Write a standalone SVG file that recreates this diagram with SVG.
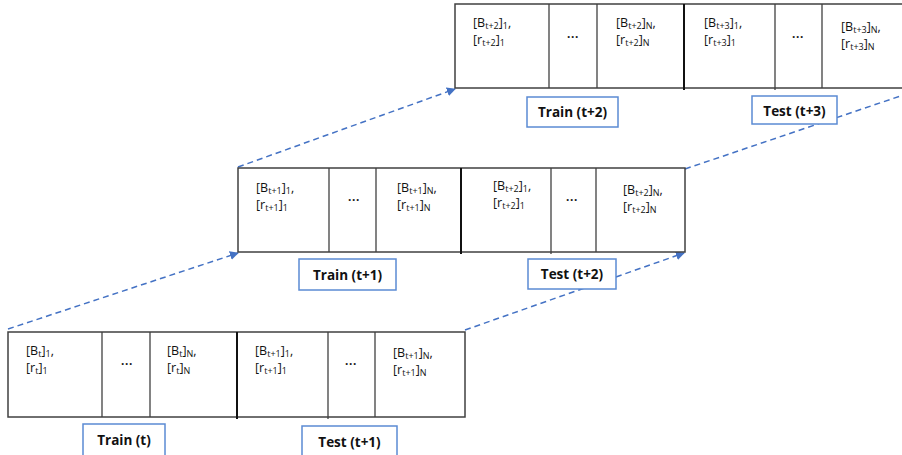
<svg xmlns="http://www.w3.org/2000/svg" width="902" height="455" viewBox="0 0 902 455">
<defs>
<marker id="ah" viewBox="0 0 10 10" refX="9" refY="5" markerWidth="9" markerHeight="9" markerUnits="userSpaceOnUse" orient="auto">
<path d="M0,0 L10,5 L0,10 Z" fill="#4472C4"/>
</marker>
</defs>
<style>
.row{fill:#fff;stroke:#404040;stroke-width:1.5}
.div{stroke:#404040;stroke-width:1.3}
.thick{stroke:#111;stroke-width:2}
.cell{font-family:"Open Sans","Liberation Sans",sans-serif;font-size:12.5px;fill:#111}
.s{font-size:9px}
.dots{font-family:"Liberation Sans",sans-serif;font-size:12px;font-weight:bold;fill:#222;text-anchor:middle}
.lbox{fill:#fff;stroke:#5B8BD3;stroke-width:1.5}
.ltxt{font-family:"Open Sans","Liberation Sans",sans-serif;font-size:13.5px;font-weight:bold;fill:#111;text-anchor:middle}
.con{fill:none;stroke:#4472C4;stroke-width:1.5;stroke-dasharray:6 4}
</style>
<rect width="902" height="455" fill="#fff"/>

<g id="connectors">
<line class="con" x1="8" y1="329" x2="238" y2="253" marker-end="url(#ah)"/>
<line class="con" x1="238" y1="167" x2="455" y2="89" marker-end="url(#ah)"/>
<line class="con" x1="465" y1="330" x2="684" y2="253" marker-end="url(#ah)"/>
<line class="con" x1="685" y1="169" x2="930" y2="86" marker-end="url(#ah)"/>
</g>

<g id="row-top">
<rect class="row" x="455" y="4" width="460" height="84"/>
<line class="div" x1="549" y1="4" x2="549" y2="88"/>
<line class="div" x1="597" y1="4" x2="597" y2="88"/>
<line class="thick" x1="684" y1="4" x2="684" y2="90"/>
<line class="div" x1="775" y1="4" x2="775" y2="90"/>
<line class="div" x1="822" y1="4" x2="822" y2="88"/>
<text class="cell" x="473" y="27">[B<tspan class="s" dy="2">t+2</tspan><tspan dy="-2">]</tspan><tspan class="s" dy="2">1</tspan><tspan dy="-2">,</tspan></text>
<text class="cell" x="473" y="44">[r<tspan class="s" dy="2">t+2</tspan><tspan dy="-2">]</tspan><tspan class="s" dy="2">1</tspan></text>
<text class="dots" x="573" y="41">···</text>
<text class="cell" x="616" y="27">[B<tspan class="s" dy="2">t+2</tspan><tspan dy="-2">]</tspan><tspan class="s" dy="2">N</tspan><tspan dy="-2">,</tspan></text>
<text class="cell" x="616" y="44">[r<tspan class="s" dy="2">t+2</tspan><tspan dy="-2">]</tspan><tspan class="s" dy="2">N</tspan></text>
<text class="cell" x="704" y="27">[B<tspan class="s" dy="2">t+3</tspan><tspan dy="-2">]</tspan><tspan class="s" dy="2">1</tspan><tspan dy="-2">,</tspan></text>
<text class="cell" x="704" y="44">[r<tspan class="s" dy="2">t+3</tspan><tspan dy="-2">]</tspan><tspan class="s" dy="2">1</tspan></text>
<text class="dots" x="798" y="41">···</text>
<text class="cell" x="841" y="31">[B<tspan class="s" dy="2">t+3</tspan><tspan dy="-2">]</tspan><tspan class="s" dy="2">N</tspan><tspan dy="-2">,</tspan></text>
<text class="cell" x="841" y="48">[r<tspan class="s" dy="2">t+3</tspan><tspan dy="-2">]</tspan><tspan class="s" dy="2">N</tspan></text>
</g>

<g id="row-middle">
<rect class="row" x="238" y="168" width="447" height="84"/>
<line class="div" x1="329" y1="168" x2="329" y2="252"/>
<line class="div" x1="376" y1="168" x2="376" y2="252"/>
<line class="thick" x1="461" y1="168" x2="461" y2="254"/>
<line class="div" x1="551" y1="168" x2="551" y2="254"/>
<line class="div" x1="596" y1="168" x2="596" y2="252"/>
<text class="cell" x="256" y="192">[B<tspan class="s" dy="2">t+1</tspan><tspan dy="-2">]</tspan><tspan class="s" dy="2">1</tspan><tspan dy="-2">,</tspan></text>
<text class="cell" x="256" y="209">[r<tspan class="s" dy="2">t+1</tspan><tspan dy="-2">]</tspan><tspan class="s" dy="2">1</tspan></text>
<text class="dots" x="354" y="204">···</text>
<text class="cell" x="397" y="192">[B<tspan class="s" dy="2">t+1</tspan><tspan dy="-2">]</tspan><tspan class="s" dy="2">N</tspan><tspan dy="-2">,</tspan></text>
<text class="cell" x="397" y="209">[r<tspan class="s" dy="2">t+1</tspan><tspan dy="-2">]</tspan><tspan class="s" dy="2">N</tspan></text>
<text class="cell" x="493" y="190">[B<tspan class="s" dy="2">t+2</tspan><tspan dy="-2">]</tspan><tspan class="s" dy="2">1</tspan><tspan dy="-2">,</tspan></text>
<text class="cell" x="493" y="207">[r<tspan class="s" dy="2">t+2</tspan><tspan dy="-2">]</tspan><tspan class="s" dy="2">1</tspan></text>
<text class="dots" x="572" y="204">···</text>
<text class="cell" x="623" y="194">[B<tspan class="s" dy="2">t+2</tspan><tspan dy="-2">]</tspan><tspan class="s" dy="2">N</tspan><tspan dy="-2">,</tspan></text>
<text class="cell" x="623" y="211">[r<tspan class="s" dy="2">t+2</tspan><tspan dy="-2">]</tspan><tspan class="s" dy="2">N</tspan></text>
</g>

<g id="row-bottom">
<rect class="row" x="8" y="332" width="457" height="85"/>
<line class="div" x1="102" y1="332" x2="102" y2="417"/>
<line class="div" x1="150" y1="332" x2="150" y2="417"/>
<line class="thick" x1="237" y1="332" x2="237" y2="419"/>
<line class="div" x1="328" y1="332" x2="328" y2="419"/>
<line class="div" x1="375" y1="332" x2="375" y2="417"/>
<text class="cell" x="26" y="355">[B<tspan class="s" dy="2">t</tspan><tspan dy="-2">]</tspan><tspan class="s" dy="2">1</tspan><tspan dy="-2">,</tspan></text>
<text class="cell" x="26" y="372">[r<tspan class="s" dy="2">t</tspan><tspan dy="-2">]</tspan><tspan class="s" dy="2">1</tspan></text>
<text class="dots" x="127" y="368">···</text>
<text class="cell" x="167" y="355">[B<tspan class="s" dy="2">t</tspan><tspan dy="-2">]</tspan><tspan class="s" dy="2">N</tspan><tspan dy="-2">,</tspan></text>
<text class="cell" x="167" y="372">[r<tspan class="s" dy="2">t</tspan><tspan dy="-2">]</tspan><tspan class="s" dy="2">N</tspan></text>
<text class="cell" x="255" y="355">[B<tspan class="s" dy="2">t+1</tspan><tspan dy="-2">]</tspan><tspan class="s" dy="2">1</tspan><tspan dy="-2">,</tspan></text>
<text class="cell" x="255" y="372">[r<tspan class="s" dy="2">t+1</tspan><tspan dy="-2">]</tspan><tspan class="s" dy="2">1</tspan></text>
<text class="dots" x="351" y="368">···</text>
<text class="cell" x="393" y="357">[B<tspan class="s" dy="2">t+1</tspan><tspan dy="-2">]</tspan><tspan class="s" dy="2">N</tspan><tspan dy="-2">,</tspan></text>
<text class="cell" x="393" y="374">[r<tspan class="s" dy="2">t+1</tspan><tspan dy="-2">]</tspan><tspan class="s" dy="2">N</tspan></text>
</g>

<g id="label-train-t2"><rect class="lbox" x="527" y="97" width="91" height="30"/><text class="ltxt" x="572.5" y="117">Train (t+2)</text></g>
<g id="label-test-t3"><rect class="lbox" x="752" y="96" width="85" height="28"/><text class="ltxt" x="794.5" y="115.5">Test (t+3)</text></g>
<g id="label-train-t1"><rect class="lbox" x="299" y="259" width="97" height="31"/><text class="ltxt" x="347.5" y="279.5">Train (t+1)</text></g>
<g id="label-test-t2"><rect class="lbox" x="528" y="259" width="88" height="30"/><text class="ltxt" x="572" y="279">Test (t+2)</text></g>
<g id="label-train-t"><rect class="lbox" x="83" y="424" width="82" height="34"/><text class="ltxt" x="124" y="445">Train (t)</text></g>
<g id="label-test-t1"><rect class="lbox" x="302" y="426" width="95" height="32"/><text class="ltxt" x="349.5" y="447">Test (t+1)</text></g>
</svg>
